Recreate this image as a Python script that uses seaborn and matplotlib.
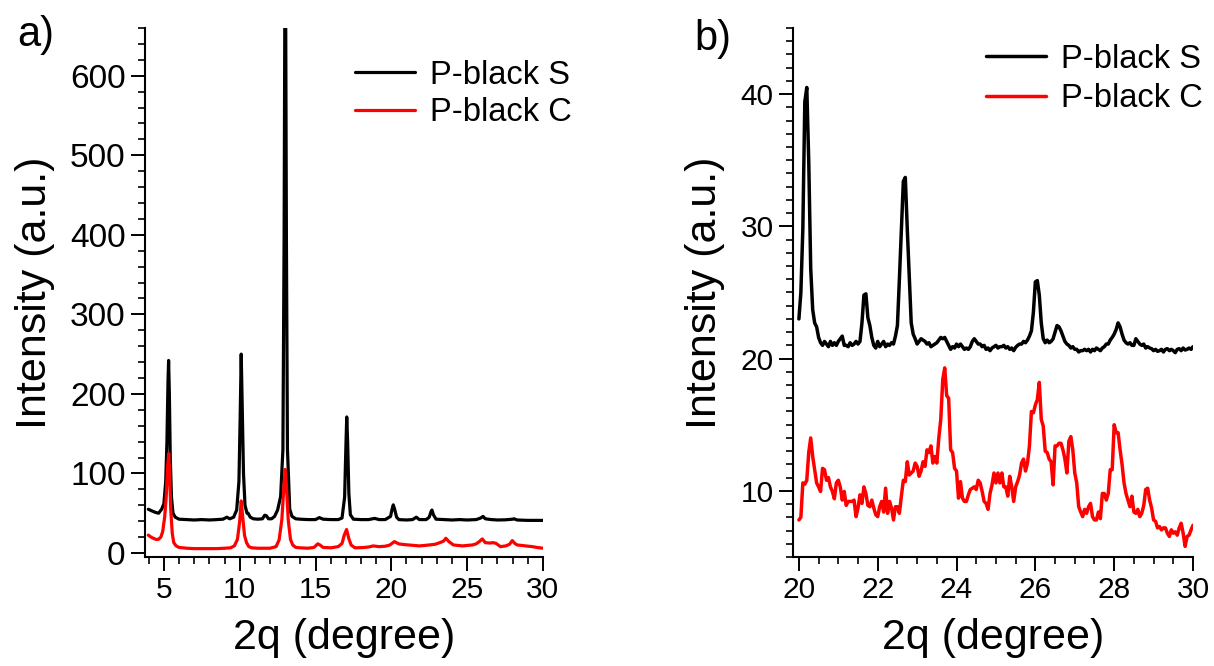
import numpy as np
import pandas as pd
import matplotlib
matplotlib.use("Agg")
import matplotlib.pyplot as plt
import seaborn as sns
from matplotlib.ticker import MultipleLocator

# -----------------------------
# PANEL a) : wide scan 4-30 deg
# -----------------------------
a_s_x = [3.97, 4.2, 4.45, 4.65, 4.85, 5.0, 5.12, 5.2, 5.27, 5.31, 5.36, 5.42, 5.5, 5.6, 5.75,
         6.0, 6.5, 7.0, 7.5, 8.0, 8.5, 8.9, 9.15, 9.35, 9.6, 9.8, 9.95, 10.03, 10.1, 10.17,
         10.25, 10.35, 10.48, 10.55, 10.7, 10.9, 11.2, 11.5, 11.65, 11.75, 11.9, 12.1, 12.3,
         12.5, 12.7, 12.85, 12.93, 12.98, 13.03, 13.08, 13.15, 13.3, 13.45, 13.7, 14.0, 14.5,
         15.0, 15.25, 15.5, 16.0, 16.5, 16.75, 16.92, 17.0, 17.06, 17.12, 17.2, 17.3, 17.5,
         18.0, 18.5, 18.9, 19.2, 19.6, 19.95, 20.05, 20.13, 20.22, 20.35, 20.5, 21.0, 21.4,
         21.65, 21.85, 22.3, 22.5, 22.62, 22.68, 22.78, 22.95, 23.5, 24.0, 24.5, 25.0, 25.6,
         25.9, 26.05, 26.2, 26.6, 27.0, 27.5, 28.0, 28.1, 28.3, 29.0, 29.5, 30.0]
a_s_y = [55, 53, 51, 50, 55, 62, 90, 140, 215, 242, 200, 120, 70, 50, 45,
         42.5, 42, 41.5, 42, 41.5, 42, 42.5, 45, 43, 45, 54, 90, 170, 250, 180,
         100, 60, 50, 50, 45, 43, 42.5, 43, 47.5, 47, 43, 43, 46,
         54, 71, 130, 400, 700, 700, 400, 130, 55, 46, 43, 42.5, 42,
         42, 44.5, 42.5, 42, 42, 44, 70, 130, 171, 140, 75, 48, 42.5,
         42, 42, 43.5, 42, 42, 46, 55, 60.5, 55, 45, 42, 41.5, 42,
         45, 42, 42, 45, 52, 54, 48, 42.5, 42, 41.5, 42, 41.5, 42,
         44, 46, 43, 42, 41.5, 41.7, 42.5, 43, 41.5, 41, 41, 41]

a_c_x = [3.97, 4.15, 4.3, 4.5, 4.65, 4.8, 4.92, 5.05, 5.15, 5.25, 5.32, 5.38, 5.45, 5.55, 5.65,
         5.8, 6.0, 6.5, 7.0, 7.5, 8.0, 8.5, 9.0, 9.4, 9.65, 9.85, 10.0, 10.1, 10.2, 10.32,
         10.45, 10.6, 10.8, 11.2, 11.6, 12.0, 12.4, 12.6, 12.78, 12.92, 13.0, 13.08, 13.2,
         13.35, 13.5, 13.7, 14.0, 14.5, 14.9, 15.15, 15.3, 15.5, 16.0, 16.5, 16.75, 16.9,
         17.05, 17.2, 17.35, 17.6, 18.1, 18.5, 18.8, 19.2, 19.6, 19.9, 20.2, 20.5, 20.9,
         21.2, 21.5, 21.85, 22.2, 22.5, 22.9, 23.2, 23.45, 23.6, 23.8, 24.1, 24.4, 24.7,
         25.0, 25.35, 25.6, 25.8, 26.0, 26.2, 26.5, 26.7, 26.9, 27.2, 27.55, 27.8, 27.98,
         28.15, 28.3, 28.6, 28.86, 29.3, 29.6, 30.0]
a_c_y = [22.5, 20, 18.5, 17, 17.3, 20, 27, 45, 70, 110, 125, 100, 55, 25, 13,
         9, 7, 6, 5.5, 5.5, 5.5, 5.5, 6, 6.5, 9, 17, 40, 65.5, 45, 22,
         13, 8, 6.5, 6, 6, 6, 8, 16.5, 42, 85, 105, 85, 42,
         17, 10, 7, 6.5, 6, 7, 11.5, 10, 7, 6.5, 8, 12, 22.7,
         29.5, 18, 10, 6.5, 6.8, 7.5, 8.9, 8, 8.5, 10, 14.3, 11.4, 10.5,
         10, 9.5, 8.9, 9.5, 10.1, 11, 13, 15, 18.5, 14.3, 10.1, 9.5, 8.9,
         9.5, 10.1, 11.5, 14.3, 17.7, 13, 12.5, 13, 12.2, 8, 8.9, 11, 15.6,
         12, 10.1, 9.5, 8.9, 8, 7, 6]

# -----------------------------
# PANEL b) : zoom 20-30 deg, 0.05 deg step
# -----------------------------
b_s_y = [23.0, 25.0, 29.8, 39.4, 40.5, 34.9, 26.8, 23.7, 22.7, 22.4,
         21.6, 21.2, 21.0, 21.3, 21.1, 20.9, 21.3, 21.0, 21.2, 21.0,
         21.3, 21.5, 21.7, 21.0, 21.0, 20.9, 21.2, 21.0, 21.1, 21.3,
         21.1, 21.3, 22.7, 24.8, 24.9, 23.1, 22.5, 21.6, 21.0, 20.8,
         21.3, 20.9, 21.1, 21.3, 20.9, 21.1, 21.0, 21.2, 21.1, 21.7,
         22.5, 26.0, 29.8, 33.4, 33.7, 29.8, 26.3, 22.7, 21.85, 21.5,
         21.1, 21.3, 21.5, 21.4, 21.3, 21.1, 21.2, 20.9, 21.0, 21.1,
         21.2, 21.4, 21.6, 21.5, 21.6, 21.3, 21.0, 20.7, 20.9, 20.8,
         21.1, 20.9, 21.1, 20.9, 20.7, 20.8, 20.7, 20.9, 21.3, 21.5,
         21.3, 21.1, 21.1, 20.9, 21.0, 20.7, 20.8, 20.6, 20.8, 20.9,
         21.0, 20.8, 20.9, 20.9, 21.0, 20.8, 20.9, 20.7, 20.8, 20.6,
         20.85, 21.0, 21.1, 21.1, 21.3, 21.2, 21.4, 21.7, 22.1, 23.5,
         25.8, 25.9, 24.8, 22.7, 21.5, 21.2, 21.4, 21.2, 21.3, 21.5,
         22.0, 22.5, 22.4, 22.1, 21.7, 21.3, 21.1, 21.0, 20.8, 20.9,
         20.7, 20.7, 20.5, 20.6, 20.6, 20.7, 20.6, 20.7, 20.5, 20.7,
         20.6, 20.8, 20.7, 20.6, 20.8, 20.9, 21.1, 21.1, 21.4, 21.6,
         21.85, 22.2, 22.7, 22.4, 21.85, 21.4, 21.2, 21.1, 21.2, 21.0,
         21.0, 21.5, 21.3, 21.1, 21.0, 21.1, 20.8, 20.9, 20.8, 20.75,
         20.6, 20.7, 20.55, 20.6, 20.7, 20.5, 20.7, 20.75, 20.6, 20.7,
         20.6, 20.45, 20.7, 20.75, 20.6, 20.8, 20.65, 20.7, 20.8, 20.7,
         20.9]
b_c_y = [7.8, 8.0, 10.6, 10.5, 10.8, 12.9, 14.0, 12.6, 11.6, 10.6,
         10.3, 9.95, 11.7, 11.6, 10.8, 11.0, 10.3, 9.95, 9.4, 10.6,
         10.8, 10.3, 9.3, 9.95, 8.9, 9.2, 9.2, 9.2, 9.3, 8.05,
         8.7, 9.7, 9.05, 10.3, 9.8, 8.9, 8.8, 9.3, 8.7, 8.2,
         8.05, 8.8, 9.2, 8.4, 10.2, 8.3, 9.2, 8.7, 7.8, 8.8,
         8.8, 8.3, 9.6, 10.8, 10.7, 12.2, 11.2, 11.35, 11.5, 12.1,
         11.85, 11.1, 11.5, 12.2, 11.85, 13.1, 12.9, 13.4, 12.1, 12.6,
         12.1, 14.0, 15.4, 18.4, 19.3, 17.2, 17.0, 13.1, 12.9, 11.7,
         11.5, 9.45, 10.7, 9.45, 9.2, 9.2, 9.7, 10.1, 10.2, 10.3,
         10.1, 10.8, 10.6, 9.95, 9.2, 9.05, 8.6, 9.8, 10.45, 11.35,
         10.6, 11.35, 10.6, 11.35, 10.3, 10.3, 9.6, 11.1, 10.3, 9.2,
         10.3, 10.7, 11.2, 12.1, 12.4, 11.5, 12.1, 13.4, 16.0, 15.9,
         16.5, 16.9, 18.2, 15.4, 14.9, 13.0, 12.9, 12.4, 12.2, 10.45,
         13.4, 13.4, 13.6, 13.6, 13.1, 12.4, 11.35, 13.75, 14.1, 13.1,
         11.35, 10.6, 8.8, 8.4, 8.05, 8.6, 8.3, 8.8, 9.05, 8.05,
         7.8, 7.8, 8.4, 7.9, 9.8, 9.8, 9.3, 9.8, 11.6, 11.6,
         15.0, 14.4, 14.4, 13.1, 12.0, 10.6, 9.8, 9.3, 8.8, 9.6,
         8.4, 8.3, 8.6, 8.05, 8.3, 8.9, 10.1, 10.2, 9.3, 8.7,
         7.8, 7.7, 7.2, 7.3, 7.05, 7.2, 7.2, 6.8, 6.55, 7.05,
         6.8, 6.9, 6.65, 7.2, 7.55, 6.8, 5.8, 6.55, 6.65, 7.05,
         7.4]
b_theta = np.linspace(20.0, 30.0, len(b_s_y))

df_b = pd.DataFrame({"theta": b_theta, "S": b_s_y, "C": b_c_y})

sns.set_style("ticks")
plt.rcParams["font.family"] = ["Liberation Sans", "DejaVu Sans"]
plt.rcParams.update({"text.color": "black", "axes.labelcolor": "black",
                     "xtick.color": "black", "ytick.color": "black"})

fig = plt.figure(figsize=(12.14, 6.66), dpi=100)
ax_a = fig.add_axes([0.1194, 0.1637, 0.3278, 0.7943])
ax_b = fig.add_axes([0.6532, 0.1637, 0.3295, 0.7943])

sns.lineplot(x=a_s_x, y=a_s_y, ax=ax_a, color="black", lw=2.3, label="P-black S",
             sort=False, estimator=None)
sns.lineplot(x=a_c_x, y=a_c_y, ax=ax_a, color="red", lw=2.3, label="P-black C",
             sort=False, estimator=None)

sns.lineplot(data=df_b, x="theta", y="S", ax=ax_b, color="black", lw=2.5,
             label="P-black S", estimator=None)
sns.lineplot(data=df_b, x="theta", y="C", ax=ax_b, color="red", lw=2.5,
             label="P-black C", estimator=None)

ax_a.set_xlim(3.75, 30)
ax_a.set_ylim(-5, 660)
ax_a.xaxis.set_major_locator(MultipleLocator(5))
ax_a.xaxis.set_minor_locator(MultipleLocator(1))
ax_a.yaxis.set_major_locator(MultipleLocator(100))
ax_a.yaxis.set_minor_locator(MultipleLocator(20))

ax_b.set_xlim(19.85, 30)
ax_b.set_ylim(5, 45)
ax_b.xaxis.set_major_locator(MultipleLocator(2))
ax_b.xaxis.set_minor_locator(MultipleLocator(0.5))
ax_b.yaxis.set_major_locator(MultipleLocator(10))
ax_b.yaxis.set_minor_locator(MultipleLocator(1))

for ax in (ax_a, ax_b):
    sns.despine(ax=ax)
    for s in ("left", "bottom"):
        ax.spines[s].set_linewidth(1.5)
        ax.spines[s].set_color("black")
    ax.tick_params(which="major", direction="out", length=10, width=1.4,
                   labelsize=21.5, color="black", pad=4)
    ax.tick_params(which="minor", direction="out", length=5, width=1.2, color="black")
    ax.set_xlabel("2q (degree)", fontsize=31)
    ax.set_ylabel("Intensity (a.u.)", fontsize=31)
    ax.xaxis.set_label_coords(0.5, -0.115)

ax_a.tick_params(axis="y", which="major", labelsize=24)
ax_a.yaxis.set_label_coords(-0.225, 0.5)
ax_b.yaxis.set_label_coords(-0.17, 0.5)

ax_a.legend(loc="upper left", bbox_to_anchor=(0.528, 0.94), frameon=False, fontsize=23.5,
            handlelength=1.85, handletextpad=0.45, labelspacing=0.2, borderpad=0,
            borderaxespad=0)
ax_b.legend(loc="upper left", bbox_to_anchor=(0.4825, 0.97), frameon=False, fontsize=23.5,
            handlelength=1.85, handletextpad=0.45, labelspacing=0.25, borderpad=0,
            borderaxespad=0)

fig.text(0.014, 0.948, "a)", fontsize=30, va="center")
fig.text(0.572, 0.942, "b)", fontsize=30, va="center")

fig.savefig("out.png", dpi=100)
